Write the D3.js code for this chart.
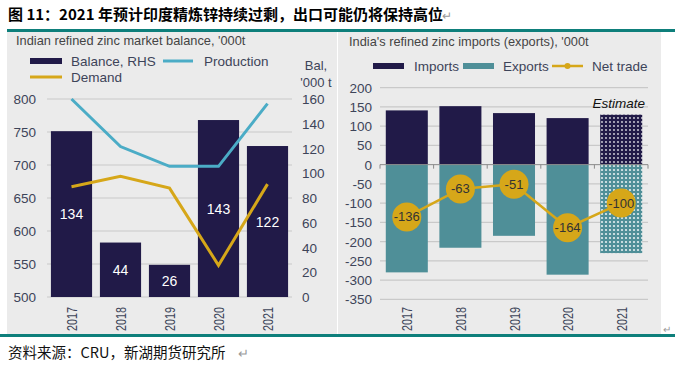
<!DOCTYPE html>
<html><head><meta charset="utf-8">
<script src="https://cdn.jsdelivr.net/npm/d3@7"></script>
<style>
html,body{margin:0;padding:0;background:#fff;}
svg{display:block;}
</style></head>
<body>
<script>
// ---------- data ----------
const years = ["2017","2018","2019","2020","2021"];
const balance = [134, 44, 26, 143, 122];
const production = [800, 728, 698, 698, 793];
const demand = [667, 683, 665, 548, 671];
const leftTicks = [500,550,600,650,700,750,800];
const rightTicks = [0,20,40,60,80,100,120,140,160];

const imports = [141, 152, 134, 121, 130];
const exports_ = [-280, -216, -185, -286, -230];
const netTrade = [-136, -63, -51, -164, -100];
const tradeTicks = [200,150,100,50,0,-50,-100,-150,-200,-250,-300,-350];

const title = "图 11：2021 年预计印度精炼锌持续过剩，出口可能仍将保持高位";
const source = "资料来源：CRU，新湖期货研究所";

// ---------- styles ----------
const W = 679, H = 366;
const NAVY = "#211a48", CYAN = "#4bacc6", GOLD = "#d6a719", TEAL = "#4f8f98";
const BG = "#ebebeb", GRID = "#c9c9c9", TXT = "#3d4459", BORDER = "#0e7f7b";
const FONT = "'Liberation Sans', Arial, sans-serif";

const svg = d3.select("body").append("svg").attr("width", W).attr("height", H)
  .style("font-family", FONT);

const defs = svg.append("defs");
function dotPattern(id, bg, r) {
  const p = defs.append("pattern").attr("id", id).attr("patternUnits", "userSpaceOnUse")
    .attr("width", 4).attr("height", 4);
  p.append("rect").attr("width", 4).attr("height", 4).attr("fill", bg);
  p.append("circle").attr("cx", 2).attr("cy", 2).attr("r", r).attr("fill", "#ffffff").attr("opacity", 0.85);
}
dotPattern("dotNavy", NAVY, 0.9);
dotPattern("dotTeal", TEAL, 1.1);

// Title
svg.append("text").attr("x", 8).attr("y", 20).attr("font-size", 15).attr("font-weight", "bold")
  .attr("font-family", "'Noto Sans CJK SC', sans-serif").attr("fill", "#000").text(title);
svg.append("text").attr("x", 442).attr("y", 20).attr("font-size", 12).attr("fill", "#999").text("↵");

// panels
svg.append("rect").attr("x", 7).attr("y", 32).attr("width", 330).attr("height", 305).attr("fill", BG);
svg.append("rect").attr("x", 338).attr("y", 32).attr("width", 323).attr("height", 303).attr("fill", BG);
svg.append("rect").attr("x", 7).attr("y", 29).attr("width", 668).attr("height", 3).attr("fill", BORDER);
svg.append("rect").attr("x", 0).attr("y", 334).attr("width", 675).attr("height", 3).attr("fill", BORDER);

// ---------- LEFT CHART ----------
const gL = svg.append("g");
gL.append("text").attr("x", 16).attr("y", 45).attr("font-size", 12.8).attr("fill", "#444")
  .text("Indian refined zinc market balance, '000t");

const xL = d3.scaleBand().domain(years).range([47, 292]).paddingInner(0.16).paddingOuter(0.08);
const yL = d3.scaleLinear().domain([500, 800]).range([297, 99]);
const yR = d3.scaleLinear().domain([0, 160]).range([297, 99]);

gL.append("g").selectAll("line").data(leftTicks).join("line")
  .attr("x1", 47).attr("x2", 292).attr("y1", d => yL(d)).attr("y2", d => yL(d))
  .attr("stroke", GRID).attr("stroke-width", 1.2);

gL.append("g").selectAll("text").data(leftTicks).join("text")
  .attr("x", 36).attr("y", d => yL(d) + 5).attr("text-anchor", "end")
  .attr("font-size", 13.5).attr("fill", TXT).text(d => d);
gL.append("g").selectAll("text").data(rightTicks).join("text")
  .attr("x", 302).attr("y", d => yR(d) + 5).attr("text-anchor", "start")
  .attr("font-size", 13.5).attr("fill", TXT).text(d => d);

gL.append("g").selectAll("rect").data(balance).join("rect")
  .attr("x", (d, i) => xL(years[i])).attr("width", xL.bandwidth())
  .attr("y", d => yR(d)).attr("height", d => yR(0) - yR(d)).attr("fill", NAVY);

gL.append("g").selectAll("text").data(balance).join("text")
  .attr("x", (d, i) => xL(years[i]) + xL.bandwidth() / 2)
  .attr("y", d => (yR(d) + yR(0)) / 2 + 5).attr("text-anchor", "middle")
  .attr("font-size", 14).attr("fill", "#fff").text(d => d);

const lineL = (arr) => d3.line().x((d, i) => xL(years[i]) + xL.bandwidth() / 2).y(d => yL(d))(arr);
gL.append("path").attr("d", lineL(production)).attr("fill", "none").attr("stroke", CYAN).attr("stroke-width", 3);
gL.append("path").attr("d", lineL(demand)).attr("fill", "none").attr("stroke", GOLD).attr("stroke-width", 3);

gL.append("g").selectAll("text").data(years).join("text")
  .attr("transform", d => `translate(${xL(d) + xL.bandwidth() / 2 + 5.5},307) rotate(-90) scale(0.8,1.1)`)
  .attr("text-anchor", "end").attr("font-size", 13.5).attr("fill", TXT).text(d => d);

// left legend
gL.append("rect").attr("x", 30).attr("y", 58).attr("width", 32).attr("height", 6).attr("fill", NAVY);
gL.append("text").attr("x", 71).attr("y", 66).attr("font-size", 13.5).attr("fill", TXT).text("Balance, RHS");
gL.append("line").attr("x1", 163).attr("x2", 193).attr("y1", 61).attr("y2", 61).attr("stroke", CYAN).attr("stroke-width", 3);
gL.append("text").attr("x", 204).attr("y", 66).attr("font-size", 13.5).attr("fill", TXT).text("Production");
gL.append("line").attr("x1", 30).attr("x2", 62).attr("y1", 77).attr("y2", 77).attr("stroke", GOLD).attr("stroke-width", 3);
gL.append("text").attr("x", 71).attr("y", 82).attr("font-size", 13.5).attr("fill", TXT).text("Demand");
gL.append("text").attr("x", 316).attr("y", 70).attr("text-anchor", "middle").attr("font-size", 13).attr("fill", TXT).text("Bal,");
gL.append("text").attr("x", 316).attr("y", 87).attr("text-anchor", "middle").attr("font-size", 13).attr("fill", TXT).text("'000 t");

// ---------- RIGHT CHART ----------
const gR = svg.append("g");
gR.append("text").attr("x", 349).attr("y", 46).attr("font-size", 12.8).attr("fill", "#444")
  .text("India's refined zinc imports (exports), '000t");

const xT = d3.scaleBand().domain(years).range([380, 648]).paddingInner(0.216).paddingOuter(0.108);
const yT = d3.scaleLinear().domain([-350, 200]).range([299.3, 87.7]);

gR.append("g").selectAll("line").data(tradeTicks.filter(d => d !== 0)).join("line")
  .attr("x1", 380).attr("x2", 648).attr("y1", d => yT(d)).attr("y2", d => yT(d))
  .attr("stroke", GRID).attr("stroke-width", 1.2);
gR.append("g").selectAll("text").data(tradeTicks).join("text")
  .attr("x", 372).attr("y", d => yT(d) + 5).attr("text-anchor", "end")
  .attr("font-size", 13.5).attr("fill", TXT).text(d => d);

const last = years.length - 1;
gR.append("g").selectAll("rect").data(imports).join("rect")
  .attr("x", (d, i) => xT(years[i])).attr("width", xT.bandwidth())
  .attr("y", d => yT(d)).attr("height", d => yT(0) - yT(d))
  .attr("fill", (d, i) => i === last ? "url(#dotNavy)" : NAVY);
gR.append("g").selectAll("rect").data(exports_).join("rect")
  .attr("x", (d, i) => xT(years[i])).attr("width", xT.bandwidth())
  .attr("y", yT(0)).attr("height", d => yT(d) - yT(0))
  .attr("fill", (d, i) => i === last ? "url(#dotTeal)" : TEAL);

// zero axis with ticks
const zeroY = yT(0);
gR.append("line").attr("x1", 380).attr("x2", 648).attr("y1", zeroY).attr("y2", zeroY).attr("stroke", "#8a8a8a").attr("stroke-width", 1);
const bounds = years.map(d => xT(d) - xT.step() * xT.paddingInner() / 2).concat([648]);
bounds[0] = 380;
gR.append("g").selectAll("line").data(bounds).join("line")
  .attr("x1", d => d).attr("x2", d => d).attr("y1", zeroY).attr("y2", zeroY + 4)
  .attr("stroke", "#8a8a8a").attr("stroke-width", 1);

const cx = (i) => xT(years[i]) + xT.bandwidth() / 2;
gR.append("path").attr("d", d3.line().x((d, i) => cx(i)).y(d => yT(d))(netTrade))
  .attr("fill", "none").attr("stroke", GOLD).attr("stroke-width", 2.5);
gR.append("g").selectAll("circle").data(netTrade).join("circle")
  .attr("cx", (d, i) => cx(i)).attr("cy", d => yT(d)).attr("r", 14.5).attr("fill", GOLD);
gR.append("g").selectAll("text").data(netTrade).join("text")
  .attr("x", (d, i) => cx(i)).attr("y", d => yT(d) + 4.5).attr("text-anchor", "middle")
  .attr("font-size", 13).attr("fill", "#333").text(d => d);

gR.append("text").attr("x", 645).attr("y", 108).attr("text-anchor", "end").attr("font-size", 13.5)
  .attr("font-style", "italic").attr("fill", "#111").text("Estimate");

gR.append("g").selectAll("text").data(years).join("text")
  .attr("transform", d => `translate(${xT(d) + xT.bandwidth() / 2 + 5.5},307) rotate(-90) scale(0.8,1.1)`)
  .attr("text-anchor", "end").attr("font-size", 13.5).attr("fill", TXT).text(d => d);

// right legend
gR.append("rect").attr("x", 373).attr("y", 63).attr("width", 31).attr("height", 6).attr("fill", NAVY);
gR.append("text").attr("x", 414).attr("y", 71).attr("font-size", 13.5).attr("fill", TXT).text("Imports");
gR.append("rect").attr("x", 463).attr("y", 63).attr("width", 31).attr("height", 6).attr("fill", TEAL);
gR.append("text").attr("x", 503).attr("y", 71).attr("font-size", 13.5).attr("fill", TXT).text("Exports");
gR.append("line").attr("x1", 552).attr("x2", 583).attr("y1", 66).attr("y2", 66).attr("stroke", GOLD).attr("stroke-width", 2.5);
gR.append("circle").attr("cx", 567.5).attr("cy", 66).attr("r", 3).attr("fill", GOLD);
gR.append("text").attr("x", 592).attr("y", 71).attr("font-size", 13.5).attr("fill", TXT).text("Net trade");

svg.append("text").attr("x", 663).attr("y", 333).attr("font-size", 10).attr("fill", "#999").text("↵");

// Source
svg.append("text").attr("x", 8).attr("y", 358).attr("font-size", 14.5)
  .attr("font-family", "'Noto Sans CJK SC', sans-serif").attr("fill", "#111").text(source);
svg.append("text").attr("x", 238).attr("y", 358).attr("font-size", 13).attr("fill", "#999").text("↵");
</script>
</body></html>
